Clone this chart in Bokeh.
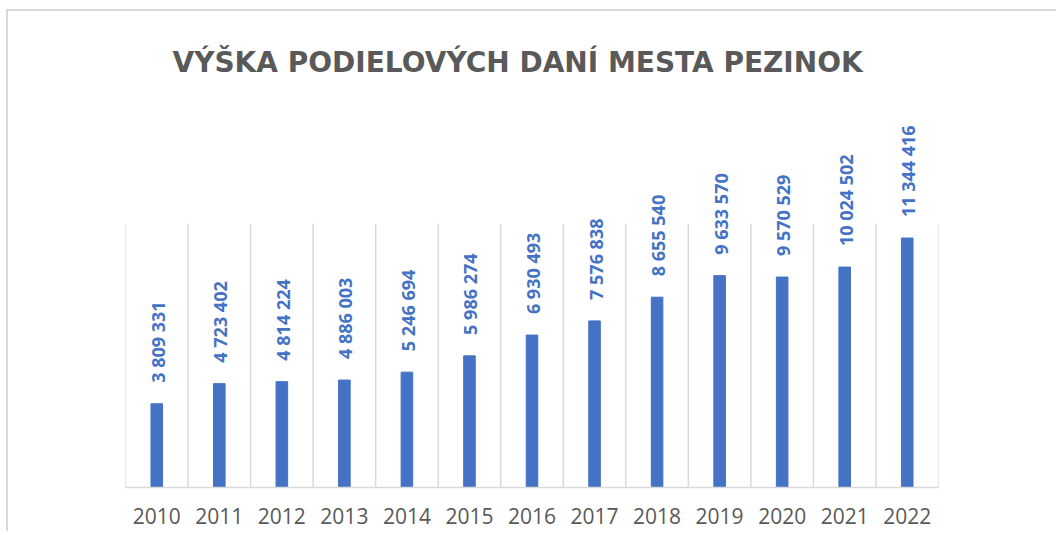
from bokeh.plotting import figure
from bokeh.models import ColumnDataSource, LabelSet, FixedTicker, Range1d
from bokeh.core.properties import value
from bokeh.embed import file_html
from bokeh.resources import INLINE

years = ["2010", "2011", "2012", "2013", "2014", "2015", "2016",
         "2017", "2018", "2019", "2020", "2021", "2022"]
values = [3809331, 4723402, 4814224, 4886003, 5246694, 5986274, 6930493,
          7576838, 8655540, 9633570, 9570529, 10024502, 11344416]
title_text = "VÝŠKA PODIELOVÝCH DANÍ MESTA PEZINOK"
axis_max = 12000000

xs = [i + 0.5 for i in range(len(years))]
labels = ["{:,}".format(v).replace(",", " ") for v in values]
src = ColumnDataSource(dict(x=xs, top=values, label=labels, year=years))
grid_x = list(range(len(years) + 1))

p = figure(width=1050, height=522, output_backend="svg", toolbar_location=None,
           x_range=Range1d(0, len(years)), y_range=Range1d(0, 17600000),
           min_border_left=117, min_border_right=120, min_border_top=89,
           min_border_bottom=46)
p.styles = {"margin-top": "9px", "margin-left": "6px",
            "border-top": "2px solid #d9d9d9", "border-left": "2px solid #d9d9d9"}

p.title.text = title_text
p.title.align = "left"
p.title.offset = 47
p.title.text_font = "DejaVu Sans"
p.title.text_font_size = "28px"
p.title.text_font_style = "bold"
p.title.text_color = "#595959"
p.title.standoff = 43

# vertical category separators (gridlines), spanning 0..axis_max
p.segment(x0=grid_x, y0=[0] * len(grid_x), x1=grid_x, y1=[axis_max] * len(grid_x),
          line_color="#D9D9D9", line_width=1.5)

p.vbar(x="x", top="top", width=0.185, source=src, color="#4472C4")

lbl = LabelSet(x="x", y="top", text="label", source=src, angle=1.5708,
               text_align="left", text_baseline="middle", x_offset=1, y_offset=21,
               text_font=value("Open Sans"), text_font_size=value("18px"),
               text_font_style="bold", text_color="#4472C4")
p.add_layout(lbl)

p.outline_line_color = None
p.yaxis.visible = False
p.ygrid.visible = False
p.xgrid.visible = False

ax = p.xaxis[0]
ax.ticker = FixedTicker(ticks=xs)
ax.major_label_overrides = {x: y for x, y in zip(xs, years)}
ax.major_tick_line_color = None
ax.minor_tick_line_color = None
ax.axis_line_color = "#D9D9D9"
ax.axis_line_width = 1.5
ax.major_label_standoff = 14
ax.major_label_text_font = "Open Sans"
ax.major_label_text_font_size = "21px"
ax.major_label_text_color = "#595959"

open("out.html", "w").write(file_html(p, INLINE))
